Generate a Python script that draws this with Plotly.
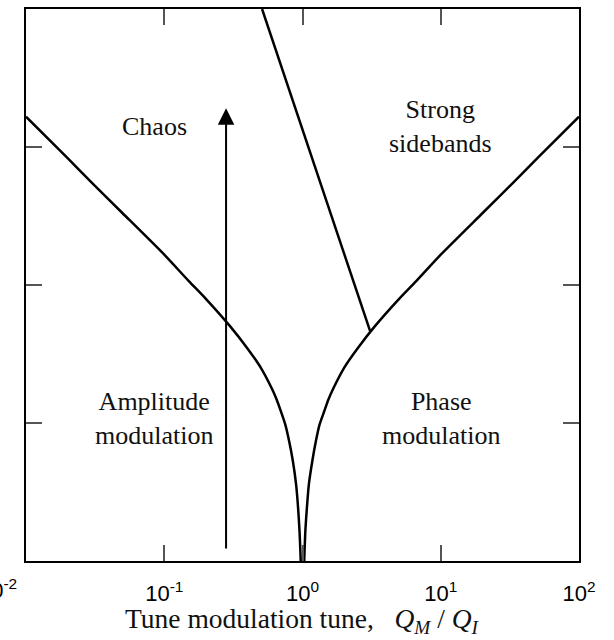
import math
import plotly.graph_objects as go

# Boundary between amplitude modulation and chaos (Q_M/Q_I < 1)
amp_q = [0.01, 0.02, 0.03, 0.05, 0.1, 0.15, 0.2, 0.3, 0.4, 0.5, 0.6, 0.65, 0.7, 0.75,
         0.8, 0.85, 0.9, 0.93, 0.95, 0.96, 0.97, 0.972]
amp_y = [3.22, 2.92, 2.74, 2.52, 2.22, 2.03, 1.90, 1.70, 1.54, 1.40, 1.25, 1.17, 1.08, 0.99,
         0.87, 0.73, 0.55, 0.38, 0.23, 0.13, 0.01, -0.05]

# Boundary between phase modulation and strong sidebands (Q_M/Q_I > 1)
phase_q = [1.029, 1.03, 1.04, 1.05, 1.075, 1.11, 1.18, 1.25, 1.33, 1.43, 1.54, 1.67, 2.0,
           2.5, 3.33, 5.0, 6.67, 10.0, 20.0, 33.3, 50.0, 100.0]
phase_y = [-0.05, 0.01, 0.13, 0.23, 0.38, 0.55, 0.73, 0.87, 0.99, 1.08, 1.17, 1.25, 1.40,
           1.54, 1.70, 1.90, 2.03, 2.22, 2.52, 2.74, 2.92, 3.22]

# Chaos / strong sidebands separatrix
side_q = [0.51, 3.08]
side_y = [4.0, 1.667]

# Arrow of increasing modulation depth
arrow_q = 0.28
arrow_y = [0.08, 3.28]

# Region labels: (text, Q_M/Q_I, y)
regions = [
    ("Chaos", 0.085, 3.15),
    ("Strong<br>sidebands", 10.0, 3.15),
    ("Amplitude<br>modulation", 0.085, 1.03),
    ("Phase<br>modulation", 10.0, 1.03),
]

x_ticks = [0.01, 0.1, 1, 10, 100]
x_ticktext = ["", "10<sup>-1</sup>", "10<sup>0</sup>", "10<sup>1</sup>", "10<sup>2</sup>"]
y_ticks = [1, 2, 3]

serif = "'Liberation Serif', 'Times New Roman', serif"
sans = "'Liberation Sans', Arial, sans-serif"

fig = go.Figure()
line = dict(color="black", width=2.5, shape="spline", smoothing=0.6)
fig.add_trace(go.Scatter(x=amp_q, y=amp_y, mode="lines", line=line, hoverinfo="skip"))
fig.add_trace(go.Scatter(x=phase_q, y=phase_y, mode="lines", line=line, hoverinfo="skip"))
fig.add_trace(go.Scatter(x=side_q, y=side_y, mode="lines",
                         line=dict(color="black", width=2.5), hoverinfo="skip"))

fig.add_annotation(
    x=math.log10(arrow_q), y=arrow_y[1], ax=math.log10(arrow_q), ay=arrow_y[0],
    xref="x", yref="y", axref="x", ayref="y", text="", showarrow=True,
    arrowhead=2, arrowsize=1.65, arrowwidth=2, arrowcolor="black",
)

for text, q, y in regions:
    fig.add_annotation(x=math.log10(q), y=y, xref="x", yref="y", text=text,
                       showarrow=False, font=dict(family=serif, size=26, color="#111"),
                       align="center")

# leftmost decade label, partly outside the page
fig.add_annotation(x=-0.013, y=-0.022, xref="paper", yref="paper", xanchor="right",
                   yanchor="top", text="10<sup>-2</sup>", showarrow=False,
                   font=dict(family=sans, size=22, color="black"))

fig.add_annotation(x=0.5, y=-0.108, xref="paper", yref="paper", xanchor="center",
                   yanchor="middle", showarrow=False,
                   text="Tune modulation tune,&nbsp;&nbsp;&nbsp;<i>Q<sub>M</sub></i> / <i>Q<sub>I</sub></i>",
                   font=dict(family=serif, size=27.5, color="#111"))

fig.update_xaxes(type="log", range=[-2, 2], tickvals=x_ticks, ticktext=x_ticktext,
                 ticks="inside", ticklen=16, tickwidth=1.5, tickcolor="#555",
                 showline=True, linecolor="black", linewidth=1.5, mirror="allticks",
                 showgrid=False, zeroline=False, ticklabelstandoff=12,
                 tickfont=dict(family=sans, size=22, color="black"))
fig.update_yaxes(range=[0, 4], tickvals=y_ticks, showticklabels=False,
                 ticks="inside", ticklen=16, tickwidth=1.5, tickcolor="#555",
                 showline=True, linecolor="black", linewidth=1.5, mirror="allticks",
                 showgrid=False, zeroline=False)

fig.update_layout(width=614, height=640, margin=dict(l=26, r=35, t=7, b=79),
                  paper_bgcolor="white", plot_bgcolor="white", showlegend=False)

fig.write_html("out.html")
